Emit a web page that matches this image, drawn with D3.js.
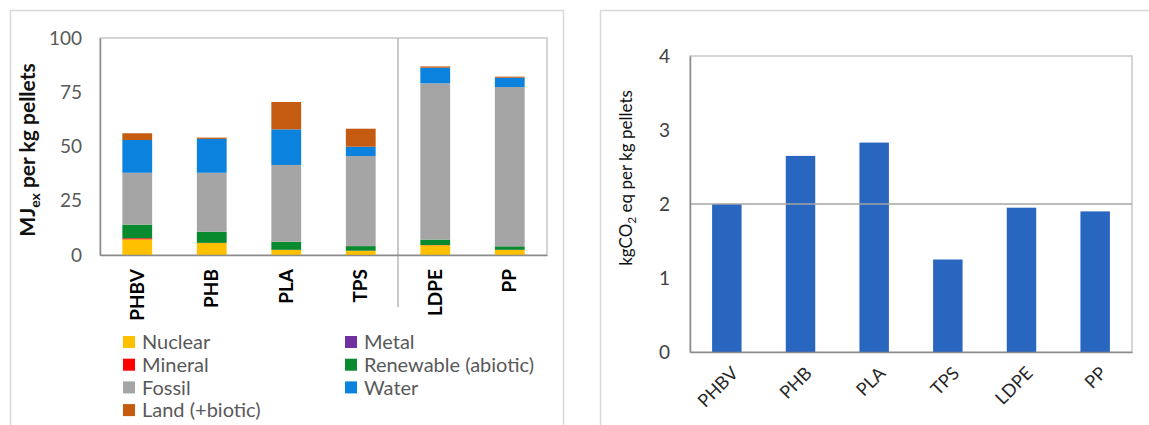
<!DOCTYPE html>
<html>
<head>
<meta charset="utf-8">
<script src="https://cdn.jsdelivr.net/npm/d3@7"></script>
<style>
  body { margin: 0; background: #fff; }
  text { font-family: Lato, "Open Sans", sans-serif; }
</style>
</head>
<body>
<svg id="chart" width="1149" height="425"></svg>
<script>
// ---- data ----
var materials = ["PHBV", "PHB", "PLA", "TPS", "LDPE", "PP"];
var sources = ["Nuclear", "Metal", "Mineral", "Renewable (abiotic)", "Fossil", "Water", "Land (+biotic)"];
var sourceColors = ["#FFC000", "#7030A0", "#FF0000", "#0A8A2E", "#A5A5A5", "#0A82DE", "#C55A11"];
var nuclear   = [7.2, 5.5, 2.3, 1.9, 4.5, 2.3];
var metal     = [0, 0, 0, 0, 0, 0];
var mineral   = [0.5, 0.1, 0.1, 0.1, 0.1, 0.1];
var renewable = [6.3, 5.1, 3.7, 2.1, 2.5, 1.6];
var fossil    = [23.9, 27.2, 35.4, 41.5, 72.0, 73.4];
var water     = [15.1, 15.6, 16.4, 4.3, 7.2, 4.3];
var land      = [3.1, 0.6, 12.6, 8.3, 0.6, 0.5];
var exergyTicks = [0, 25, 50, 75, 100];

var co2 = [2.0, 2.65, 2.83, 1.25, 1.95, 1.9];
var co2Ticks = [0, 1, 2, 3, 4];

var svg = d3.select("#chart");

// panel frames
svg.append("rect").attr("x", 10.5).attr("y", 10.5).attr("width", 553).attr("height", 430)
  .attr("fill", "none").attr("stroke", "#D9D9D9").attr("stroke-width", 1.5);
svg.append("rect").attr("x", 600.5).attr("y", 10.5).attr("width", 560).attr("height", 430)
  .attr("fill", "none").attr("stroke", "#D9D9D9").attr("stroke-width", 1.5);

// ================= left chart : exergy =================
var rows = materials.map(function(m, i) {
  return {
    mat: m,
    "Nuclear": nuclear[i], "Metal": metal[i], "Mineral": mineral[i],
    "Renewable (abiotic)": renewable[i], "Fossil": fossil[i],
    "Water": water[i], "Land (+biotic)": land[i]
  };
});

var x1 = d3.scaleBand().domain(materials).range([100, 547]).paddingInner(0.6).paddingOuter(0.3);
var y1 = d3.scaleLinear().domain([0, 100]).range([255, 38]);
var color = d3.scaleOrdinal().domain(sources).range(sourceColors);

var g1 = svg.append("g");

// plot border
g1.append("rect").attr("x", 100).attr("y", y1(100)).attr("width", 447).attr("height", y1(0) - y1(100))
  .attr("fill", "none").attr("stroke", "#C8C8C8").attr("stroke-width", 1.5);

var stack = d3.stack().keys(sources)(rows);
g1.selectAll("g.layer").data(stack).enter().append("g")
  .attr("class", "layer")
  .attr("fill", function(d) { return color(d.key); })
  .selectAll("rect").data(function(d) { return d; }).enter().append("rect")
    .attr("x", function(d) { return x1(d.data.mat); })
    .attr("width", x1.bandwidth())
    .attr("y", function(d) { return y1(d[1]); })
    .attr("height", function(d) { return y1(d[0]) - y1(d[1]); });

// divider between bio-based and fossil plastics
var divX = (x1("TPS") + x1.bandwidth() + x1("LDPE")) / 2;
g1.append("line").attr("x1", divX).attr("x2", divX).attr("y1", y1(100)).attr("y2", 307)
  .attr("stroke", "#A6A6A6").attr("stroke-width", 1.2);

// axes
var yAx1 = g1.append("g").attr("transform", "translate(100,0)")
  .call(d3.axisLeft(y1).tickValues(exergyTicks).tickSize(0).tickPadding(18));
yAx1.select(".domain").attr("stroke", "#8C8C8C").attr("stroke-width", 1.5);
yAx1.selectAll("text").attr("font-size", 19).attr("fill", "#595959").attr("font-family", "Lato");

var xAx1 = g1.append("g").attr("transform", "translate(0,255)")
  .call(d3.axisBottom(x1).tickSize(0).tickSizeOuter(0));
xAx1.select(".domain").attr("stroke", "#8C8C8C").attr("stroke-width", 1.5);
xAx1.selectAll("text")
  .attr("font-size", 19).attr("font-weight", "bold").attr("fill", "#000").attr("font-family", "Lato")
  .attr("text-anchor", "end").attr("dy", "0.35em").attr("y", 0)
  .attr("transform", "translate(0,14) rotate(-90)");

// y title
var t1 = g1.append("text").attr("transform", "translate(35,150) rotate(-90)")
  .attr("text-anchor", "middle").attr("font-size", 21).attr("font-weight", "bold").attr("fill", "#111");
t1.append("tspan").text("MJ");
t1.append("tspan").attr("font-size", 14).attr("dy", 5).text("ex");
t1.append("tspan").attr("dy", -5).text(" per kg pellets");

// legend
var leg = g1.selectAll("g.leg").data(sources).enter().append("g")
  .attr("class", "leg")
  .attr("transform", function(d, i) {
    return "translate(" + (i % 2 === 0 ? 123 : 345) + "," + (342 + Math.floor(i / 2) * 22.7) + ")";
  });
leg.append("rect").attr("x", 0).attr("y", -6).attr("width", 12).attr("height", 12)
  .attr("fill", function(d) { return color(d); });
leg.append("text").attr("x", 19).attr("dy", "0.36em").attr("font-size", 20).attr("fill", "#595959")
  .text(function(d) { return d; });

// ================= right chart : GWP =================
var x2 = d3.scaleBand().domain(materials).range([690, 1132]).paddingInner(0.6).paddingOuter(0.3);
var y2 = d3.scaleLinear().domain([0, 4]).range([352, 56]);
var g2 = svg.append("g");

g2.append("rect").attr("x", 690).attr("y", y2(4)).attr("width", 442).attr("height", y2(0) - y2(4))
  .attr("fill", "none").attr("stroke", "#C8C8C8").attr("stroke-width", 1.5);

g2.selectAll("rect.bar").data(co2).enter().append("rect")
  .attr("class", "bar")
  .attr("x", function(d, i) { return x2(materials[i]); })
  .attr("width", x2.bandwidth())
  .attr("y", function(d) { return y2(d); })
  .attr("height", function(d) { return y2(0) - y2(d); })
  .attr("fill", "#2966BF");

// line at 2
g2.append("line").attr("x1", 690).attr("x2", 1132).attr("y1", y2(2)).attr("y2", y2(2))
  .attr("stroke", "#A6A6A6").attr("stroke-width", 1.5);

var yAx2 = g2.append("g").attr("transform", "translate(690,0)")
  .call(d3.axisLeft(y2).tickValues(co2Ticks).tickSize(0).tickPadding(20).tickFormat(d3.format("d")));
yAx2.select(".domain").attr("stroke", "#8C8C8C").attr("stroke-width", 1.5);
yAx2.selectAll("text").attr("font-size", 19).attr("fill", "#404040").attr("font-family", "Lato");

var xAx2 = g2.append("g").attr("transform", "translate(0,352)")
  .call(d3.axisBottom(x2).tickSize(0).tickSizeOuter(0));
xAx2.select(".domain").attr("stroke", "#8C8C8C").attr("stroke-width", 1.5);
xAx2.selectAll("text")
  .attr("font-size", 18).attr("fill", "#262626").attr("font-family", "Lato")
  .attr("text-anchor", "end").attr("dy", "0.35em").attr("y", 0)
  .attr("transform", "translate(8,18) rotate(-45)");

var t2 = g2.append("text").attr("transform", "translate(632,178) rotate(-90)")
  .attr("text-anchor", "middle").attr("font-size", 17).attr("fill", "#111");
t2.append("tspan").text("kgCO");
t2.append("tspan").attr("font-size", 12).attr("dy", 4).text("2");
t2.append("tspan").attr("dy", -4).text(" eq per kg pellets");
</script>
</body>
</html>
